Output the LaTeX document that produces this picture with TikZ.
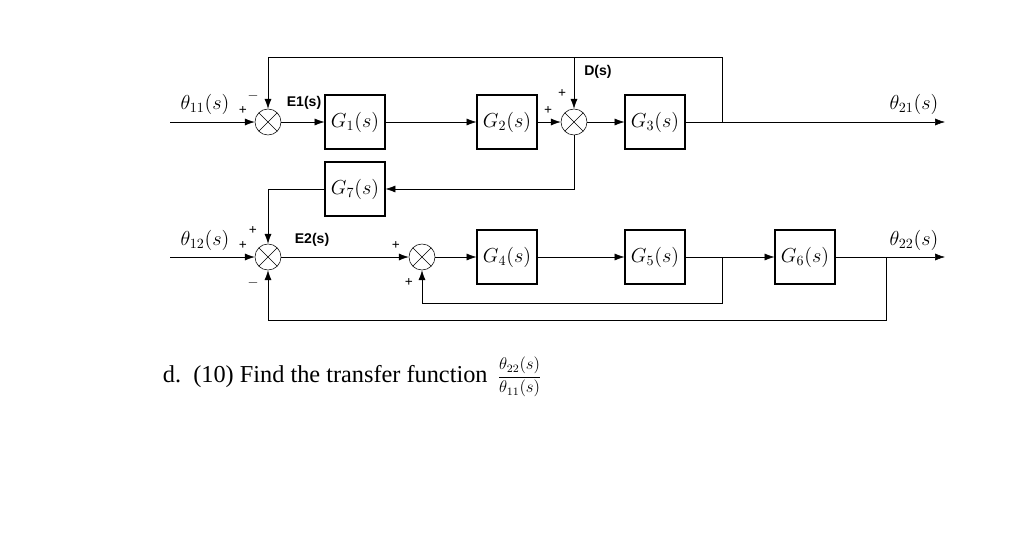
\documentclass[tikz,border=0pt]{standalone}
\usepackage{fontspec}
\setmainfont{Liberation Serif}
\newfontfamily\lab{Liberation Sans}
\usetikzlibrary{arrows.meta}
\begin{document}
\begin{tikzpicture}[x=0.025cm,y=-0.025cm,
  blk/.style={draw,thick,minimum width=1.5cm,minimum height=1.35cm,font=\Large},
  sum/.style={draw,circle,minimum size=0.65cm,inner sep=0pt,path picture={
    \draw (path picture bounding box.north west)--(path picture bounding box.south east)
          (path picture bounding box.north east)--(path picture bounding box.south west);}},
  sig/.style={-{Latex[length=7pt,width=5pt]},thin},
  sg/.style={font=\normalsize\bfseries,inner sep=1pt},
  bl/.style={font=\lab\bfseries\normalsize}]
\useasboundingbox (0,0) rectangle (1019,541);
\node[sum] (s1) at (268,122) {};
\node[blk] (g1) at (355,122) {$G_1(s)$};
\node[blk] (g2) at (507,122) {$G_2(s)$};
\node[sum] (s2) at (574,122) {};
\node[blk] (g3) at (655,122) {$G_3(s)$};
\node[blk] (g7) at (355,189) {$G_7(s)$};
\node[sum] (s3) at (268,257) {};
\node[sum] (s4) at (422,257) {};
\node[blk] (g4) at (507,257) {$G_4(s)$};
\node[blk] (g5) at (655,257) {$G_5(s)$};
\node[blk] (g6) at (805,257) {$G_6(s)$};
\coordinate (in1) at (170,122);
\coordinate (in2) at (170,257);
\coordinate (out1) at (945,122);
\coordinate (out2) at (945,257);
\coordinate (d) at (574,58);
\coordinate (b1) at (722,122);
\coordinate (b2) at (722,257);
\coordinate (b3) at (886,257);
% top loop
\draw[sig] (in1) -- (s1);
\draw[sig] (s1) -- (g1);
\draw[sig] (g1) -- (g2);
\draw[sig] (g2) -- (s2);
\draw[sig] (s2) -- (g3);
\draw[sig] (g3) -- (out1);
\draw[sig] (d) -- (s2);
\draw[sig] (b1) |- (268,57) -- (s1);
\draw[sig] (s2) |- (g7);
\draw[sig] (g7) -| (s3);
% bottom loop
\draw[sig] (in2) -- (s3);
\draw[sig] (s3) -- (s4);
\draw[sig] (s4) -- (g4);
\draw[sig] (g4) -- (g5);
\draw[sig] (g5) -- (g6);
\draw[sig] (g6) -- (out2);
\draw[sig] (b2) |- (422,303) -- (s4);
\draw[sig] (b3) |- (268,320) -- (s3);
% labels
\node[font=\Large] at (205,104) {$\theta_{11}(s)$};
\node[font=\Large] at (205,240) {$\theta_{12}(s)$};
\node[font=\Large] at (914,104) {$\theta_{21}(s)$};
\node[font=\Large] at (914,240) {$\theta_{22}(s)$};
\node[bl] at (304,103) {E1(s)};
\node[bl] at (312,240) {E2(s)};
\node[bl] at (598,72) {D(s)};
\node[sg] at (243,111) {+};
\node[sg] at (253,96) {$-$};
\node[sg] at (548,111) {+};
\node[sg] at (562,94) {+};
\node[sg] at (243,246) {+};
\node[sg] at (253,231) {+};
\node[sg] at (253,283) {$-$};
\node[sg] at (396,246) {+};
\node[sg] at (409,283) {+};
\node[anchor=west,font=\LARGE] (q) at (158,377) {d.\ \ (10) Find the transfer function};
\node[anchor=west,font=\large] at (q.east) {$\displaystyle\frac{\theta_{22}(s)}{\theta_{11}(s)}$};
\end{tikzpicture}
\end{document}
